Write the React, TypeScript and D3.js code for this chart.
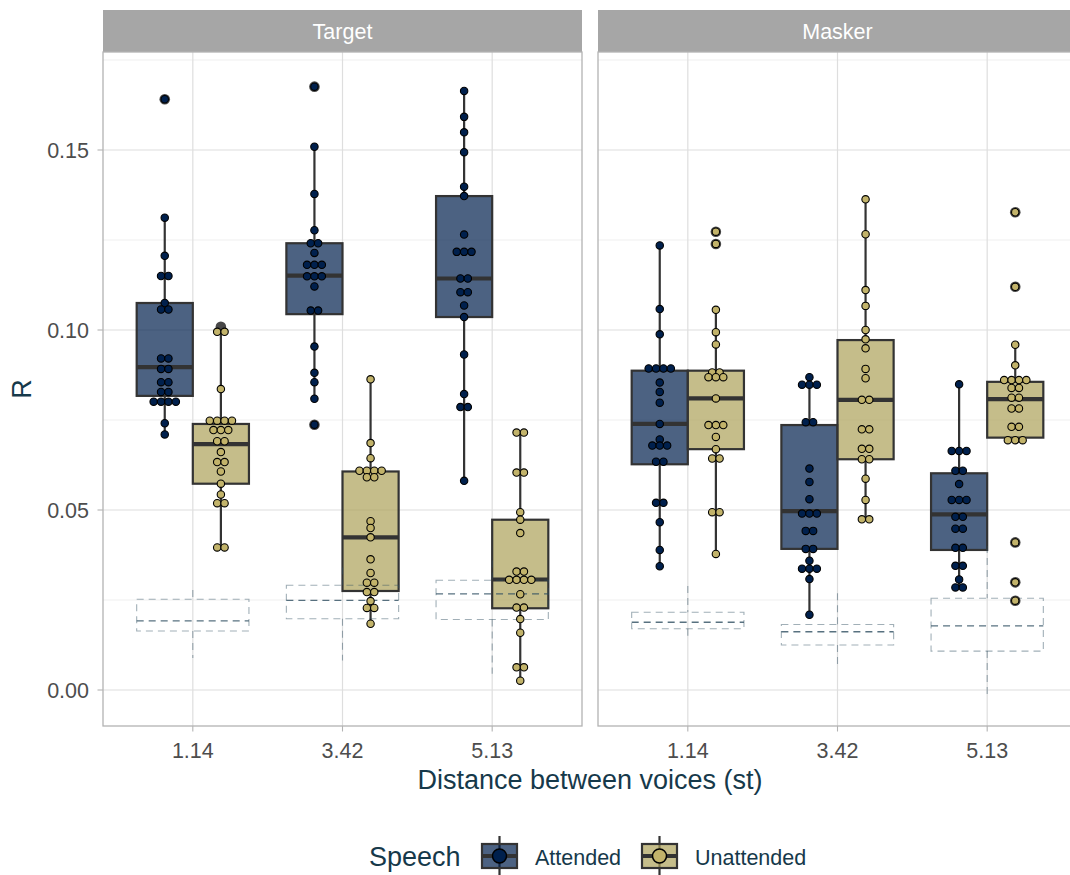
import React from "react";
import * as d3 from "d3";

// ---------- data ----------
const panels = ["Target", "Masker"];
const distances = ["1.14", "3.42", "5.13"];
const speechLevels = ["Attended", "Unattended"];
const yTicks = [0, 0.05, 0.1, 0.15];
const yMinorTicks = [0.025, 0.075, 0.125, 0.175];

// individual R values (dotplot), per panel / distance / speech
const targetAtt114 = [0.1641, 0.1312, 0.1206, 0.115, 0.115, 0.1075, 0.1057, 0.1057, 0.0921, 0.0921, 0.0892, 0.0892, 0.0855, 0.0855, 0.0828, 0.0828, 0.0801, 0.0801, 0.0801, 0.0801, 0.0741, 0.071];
const targetUna114 = [0.0995, 0.0995, 0.0836, 0.0748, 0.0748, 0.0748, 0.0748, 0.0722, 0.0722, 0.0722, 0.0691, 0.0691, 0.0661, 0.0633, 0.0633, 0.0607, 0.0573, 0.0543, 0.0519, 0.0519, 0.0396, 0.0396];
const targetAtt342 = [0.1676, 0.1509, 0.1378, 0.1277, 0.1241, 0.1241, 0.1214, 0.1181, 0.1181, 0.1181, 0.1149, 0.1149, 0.1149, 0.1121, 0.1054, 0.1054, 0.0954, 0.0881, 0.0855, 0.0809, 0.0737];
const targetUna342 = [0.0863, 0.0686, 0.0644, 0.0609, 0.0609, 0.0609, 0.0609, 0.0591, 0.0591, 0.0469, 0.045, 0.0424, 0.0363, 0.0325, 0.0298, 0.0298, 0.0272, 0.0272, 0.0247, 0.0228, 0.0228, 0.0184];
const targetAtt513 = [0.1664, 0.1592, 0.1549, 0.1494, 0.1398, 0.1372, 0.1265, 0.1217, 0.1217, 0.1217, 0.1143, 0.1143, 0.1105, 0.1105, 0.1068, 0.1036, 0.0932, 0.0822, 0.0786, 0.0786, 0.0581];
const targetUna513 = [0.0715, 0.0715, 0.0604, 0.0604, 0.0494, 0.0473, 0.0436, 0.0329, 0.0329, 0.0306, 0.0306, 0.0306, 0.0306, 0.0266, 0.0229, 0.0229, 0.0197, 0.0159, 0.0063, 0.0063, 0.0026];
const maskerAtt114 = [0.1235, 0.1058, 0.0988, 0.0893, 0.0893, 0.0893, 0.0893, 0.0854, 0.0828, 0.0798, 0.0739, 0.0696, 0.0679, 0.0679, 0.0679, 0.0634, 0.0634, 0.052, 0.052, 0.0466, 0.0389, 0.0344];
const maskerUna114 = [0.1273, 0.1239, 0.1056, 0.0994, 0.096, 0.0882, 0.0882, 0.0869, 0.0869, 0.0869, 0.081, 0.0736, 0.0736, 0.0736, 0.0703, 0.0669, 0.0643, 0.0643, 0.0494, 0.0494, 0.0378];
const maskerAtt342 = [0.0869, 0.0848, 0.0848, 0.0848, 0.0744, 0.0744, 0.0615, 0.0578, 0.053, 0.049, 0.049, 0.049, 0.0442, 0.0442, 0.0392, 0.0392, 0.0359, 0.0337, 0.0337, 0.0337, 0.0308, 0.0209];
const maskerUna342 = [0.1363, 0.1266, 0.1111, 0.1067, 0.1, 0.0974, 0.0949, 0.0892, 0.0866, 0.0806, 0.0806, 0.0724, 0.0724, 0.067, 0.067, 0.0641, 0.0641, 0.0587, 0.0528, 0.0474, 0.0474];
const maskerAtt513 = [0.0849, 0.0664, 0.0664, 0.0664, 0.0609, 0.0609, 0.0572, 0.0528, 0.0528, 0.0528, 0.0481, 0.0481, 0.0448, 0.0448, 0.0395, 0.0395, 0.0345, 0.0345, 0.0307, 0.0285, 0.0285];
const maskerUna513 = [0.1327, 0.112, 0.0959, 0.0902, 0.0861, 0.0861, 0.0861, 0.0861, 0.0839, 0.0839, 0.0812, 0.0812, 0.0782, 0.0782, 0.0731, 0.0731, 0.0694, 0.0694, 0.0694, 0.041, 0.0299, 0.0248];

// box statistics [whiskerLow, q1, median, q3, whiskerHigh]
const targetAttBox = [[0.071, 0.0817, 0.0897, 0.1075, 0.1312], [0.0809, 0.1044, 0.1151, 0.1241, 0.1509], [0.0581, 0.1036, 0.1143, 0.1372, 0.1664]];
const targetUnaBox = [[0.0396, 0.0573, 0.0683, 0.0739, 0.0995], [0.0184, 0.0275, 0.0424, 0.0607, 0.0863], [0.0026, 0.0227, 0.0307, 0.0473, 0.0715]];
const maskerAttBox = [[0.0344, 0.0627, 0.0739, 0.0887, 0.1235], [0.0209, 0.0392, 0.0497, 0.0736, 0.0869], [0.0285, 0.0389, 0.0488, 0.0602, 0.0849]];
const maskerUnaBox = [[0.0378, 0.0669, 0.081, 0.0887, 0.1056], [0.0474, 0.0641, 0.0806, 0.0972, 0.1363], [0.0694, 0.0701, 0.0808, 0.0856, 0.0959]];

// boxplot outliers
const targetAttOut = [[0.1641], [0.1676, 0.0737], []];
const targetUnaOut = [[0.1009], [], []];
const maskerAttOut = [[], [], []];
const maskerUnaOut = [[0.1273, 0.1239], [], [0.1327, 0.112, 0.041, 0.0299, 0.0248]];

// chance-level (dashed) boxes [whiskerLow, q1, median, q3, whiskerHigh]
const targetChance = [[0.0089, 0.0164, 0.0192, 0.0252, 0.0278], [0.0082, 0.0198, 0.0249, 0.0291, 0.034], [0.0045, 0.0196, 0.0267, 0.0305, 0.036]];
const maskerChance = [[0.0144, 0.017, 0.0188, 0.0216, 0.0289], [0.0065, 0.0125, 0.0162, 0.0182, 0.0269], [-0.0014, 0.0108, 0.0178, 0.0255, 0.04]];

const dotsByPanel = [
  [[targetAtt114, targetUna114], [targetAtt342, targetUna342], [targetAtt513, targetUna513]],
  [[maskerAtt114, maskerUna114], [maskerAtt342, maskerUna342], [maskerAtt513, maskerUna513]],
];
const boxesByPanel = [[targetAttBox, targetUnaBox], [maskerAttBox, maskerUnaBox]];
const outByPanel = [[targetAttOut, targetUnaOut], [maskerAttOut, maskerUnaOut]];
const chanceByPanel = [targetChance, maskerChance];

// ---------- style ----------
const FONT = "'Liberation Sans', Arial, Helvetica, sans-serif";
const W = 1070, H = 875;
const PANEL_X = [103, 598];
const PANEL_W = 479;
const PANEL_TOP = 52, PANEL_BOTTOM = 726, STRIP_TOP = 10;
const dotFill = ["#00204d", "#c2b36a"];
const boxFill = ["#00204d", "#ada159"];
const TITLE_COL = "#16394a";
const DOT_R = 3.7;

function dotRows(values: number[]) {
  const m = new Map<string, number>();
  values.forEach((v) => m.set(v.toFixed(4), (m.get(v.toFixed(4)) || 0) + 1));
  const out: { v: number; k: number; n: number }[] = [];
  m.forEach((n, key) => {
    for (let k = 0; k < n; k++) out.push({ v: +key, k, n });
  });
  return out;
}

export default function App() {
  const y = d3.scaleLinear().domain([-0.01, 0.17722]).range([PANEL_BOTTOM, PANEL_TOP]);

  return (
    <svg width={W} height={H} style={{ position: "absolute", left: 0, top: 0, background: "#fff" }} fontFamily={FONT}>
      <rect x={0} y={0} width={W} height={H} fill="#fff" />
      {/* y axis */}
      {yTicks.map((t) => (
        <g key={"yt" + t}>
          <line x1={97.5} x2={PANEL_X[0]} y1={y(t)} y2={y(t)} stroke="#b3b3b3" strokeWidth={1.1} />
          <text x={89} y={y(t)} dy="0.36em" textAnchor="end" fontSize={21.5} fill="#4d4d4d">
            {d3.format(".2f")(t)}
          </text>
        </g>
      ))}
      <text transform={`translate(31,${(PANEL_TOP + PANEL_BOTTOM) / 2}) rotate(-90)`} textAnchor="middle" fontSize={27} fill={TITLE_COL}>
        R
      </text>

      {panels.map((pName, pi) => {
        const x0 = PANEL_X[pi];
        const xb = d3.scaleBand().domain(distances).range([x0, x0 + PANEL_W]).paddingInner(0).paddingOuter(0.1);
        const step = xb.step();
        const cx = (d: string) => (xb(d) as number) + step / 2;
        const half = 0.1875 * step;
        return (
          <g key={pName}>
            {/* strip */}
            <rect x={x0} y={STRIP_TOP} width={PANEL_W} height={PANEL_TOP - STRIP_TOP} fill="#a6a6a6" />
            <text x={x0 + PANEL_W / 2} y={(STRIP_TOP + PANEL_TOP) / 2} dy="0.36em" textAnchor="middle" fontSize={21.5} fill="#ffffff">
              {pName}
            </text>
            {/* grid */}
            {yMinorTicks.map((t) => (
              <line key={"mi" + t} x1={x0} x2={x0 + PANEL_W} y1={y(t)} y2={y(t)} stroke="#e6e6e6" strokeWidth={0.7} />
            ))}
            {yTicks.map((t) => (
              <line key={"ma" + t} x1={x0} x2={x0 + PANEL_W} y1={y(t)} y2={y(t)} stroke="#dedede" strokeWidth={1.2} />
            ))}
            {distances.map((d) => (
              <line key={"vg" + d} x1={cx(d)} x2={cx(d)} y1={PANEL_TOP} y2={PANEL_BOTTOM} stroke="#dedede" strokeWidth={1.2} />
            ))}
            {/* boxes */}
            {distances.map((d, di) =>
              speechLevels.map((s, si) => {
                const [lo, q1, med, q3, hi] = boxesByPanel[pi][si][di];
                const c = cx(d) + (si === 0 ? -half : half);
                return (
                  <g key={"bx" + d + s}>
                    <line x1={c} x2={c} y1={y(hi)} y2={y(q3)} stroke="#333" strokeWidth={2.2} />
                    <line x1={c} x2={c} y1={y(q1)} y2={y(lo)} stroke="#333" strokeWidth={2.2} />
                    <rect x={c - half} y={y(q3)} width={2 * half} height={y(q1) - y(q3)} fill={boxFill[si]} fillOpacity={0.7} stroke="#333" strokeWidth={2.2} />
                    <line x1={c - half} x2={c + half} y1={y(med)} y2={y(med)} stroke="#333" strokeWidth={4.2} />
                  </g>
                );
              })
            )}
            {/* chance-level dashed boxes */}
            {distances.map((d, di) => {
              const [lo, q1, med, q3, hi] = chanceByPanel[pi][di];
              const c = cx(d);
              const hw = 2 * half;
              return (
                <g key={"ch" + d} fill="none" stroke="#2e4d60" strokeDasharray="7,5">
                  <line x1={c} x2={c} y1={y(hi)} y2={y(q3)} strokeOpacity={0.45} strokeWidth={1.1} />
                  <line x1={c} x2={c} y1={y(q1)} y2={y(lo)} strokeOpacity={0.45} strokeWidth={1.1} />
                  <rect x={c - hw} y={y(q3)} width={2 * hw} height={y(q1) - y(q3)} strokeOpacity={0.45} strokeWidth={1.1} />
                  <line x1={c - hw} x2={c + hw} y1={y(med)} y2={y(med)} strokeOpacity={0.8} strokeWidth={1.4} />
                </g>
              );
            })}
            {/* outliers */}
            {distances.map((d, di) =>
              speechLevels.map((s, si) => {
                const c = cx(d) + (si === 0 ? -half : half);
                return outByPanel[pi][si][di].map((v, i) => (
                  <circle key={"o" + d + s + i} cx={c} cy={y(v)} r={5.3} fill="#1a1a1a" fillOpacity={0.8} />
                ));
              })
            )}
            {/* dots */}
            {distances.map((d, di) =>
              speechLevels.map((s, si) => {
                const c = cx(d) + (si === 0 ? -half : half);
                return dotRows(dotsByPanel[pi][di][si]).map((p, i) => (
                  <circle
                    key={"d" + d + s + i}
                    cx={c + (p.k - (p.n - 1) / 2) * DOT_R * 2}
                    cy={y(p.v)}
                    r={DOT_R}
                    fill={dotFill[si]}
                    stroke="#000"
                    strokeWidth={1.1}
                  />
                ));
              })
            )}
            {/* border */}
            <rect x={x0} y={PANEL_TOP} width={PANEL_W} height={PANEL_BOTTOM - PANEL_TOP} fill="none" stroke="#b3b3b3" strokeWidth={1.3} />
            {/* x axis */}
            {distances.map((d) => (
              <g key={"xt" + d}>
                <line x1={cx(d)} x2={cx(d)} y1={PANEL_BOTTOM} y2={PANEL_BOTTOM + 5.5} stroke="#b3b3b3" strokeWidth={1.1} />
                <text x={cx(d)} y={750} dy="0.36em" textAnchor="middle" fontSize={21.5} fill="#4d4d4d">
                  {d}
                </text>
              </g>
            ))}
          </g>
        );
      })}

      <text x={(PANEL_X[0] + PANEL_X[1] + PANEL_W) / 2} y={789} textAnchor="middle" fontSize={27} fill={TITLE_COL}>
        Distance between voices (st)
      </text>

      {/* legend */}
      <text x={369} y={866} fontSize={27} fill={TITLE_COL}>
        Speech
      </text>
      {speechLevels.map((s, si) => {
        const kx = si === 0 ? 482 : 642;
        const kc = kx + 17.5;
        const tx = si === 0 ? 535 : 695;
        return (
          <g key={"lg" + s}>
            <line x1={kc} x2={kc} y1={836} y2={876} stroke="#333" strokeWidth={2.2} />
            <rect x={kx} y={844} width={35} height={24} fill={boxFill[si]} fillOpacity={0.7} stroke="#333" strokeWidth={2.2} />
            <line x1={kx} x2={kx + 35} y1={856} y2={856} stroke="#333" strokeWidth={4} />
            <circle cx={kc} cy={856} r={7} fill={dotFill[si]} stroke="#000" strokeWidth={1.5} />
            <text x={tx} y={865} fontSize={21.5} fill={TITLE_COL}>
              {s}
            </text>
          </g>
        );
      })}
    </svg>
  );
}
